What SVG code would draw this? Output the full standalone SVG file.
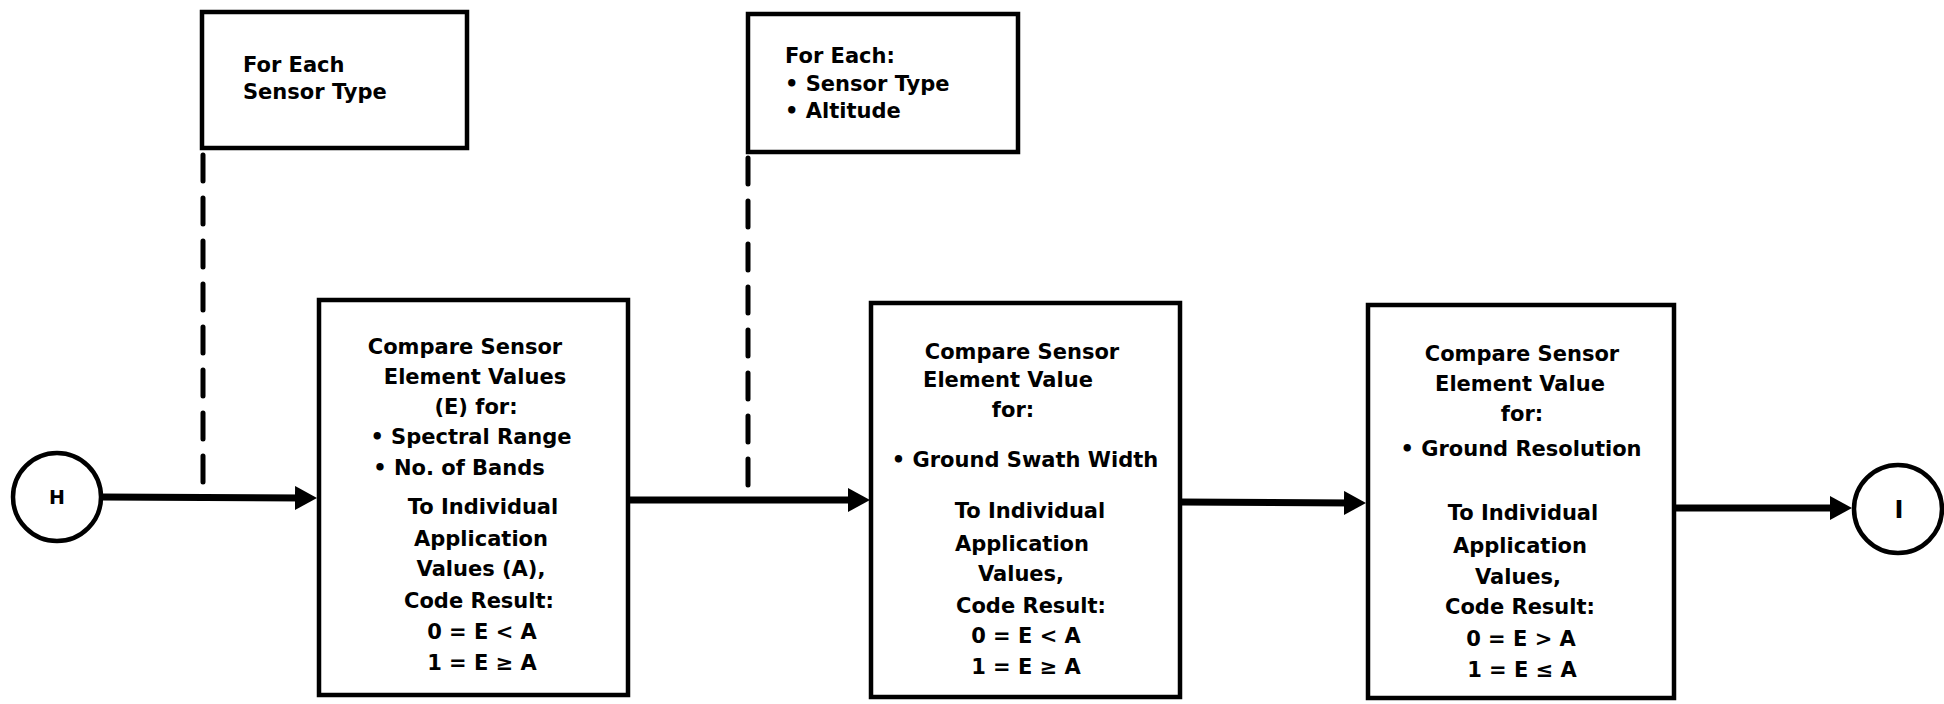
<svg xmlns="http://www.w3.org/2000/svg" width="1944" height="704" viewBox="0 0 1944 704">
<defs>
<style>
.box{fill:#fff;stroke:#000;stroke-width:4.5}
.t{font-family:"DejaVu Sans","Liberation Sans",sans-serif;font-weight:bold;font-size:21px;fill:#000}
.m{text-anchor:middle}
.flow{stroke:#000;stroke-width:7;fill:none}
.dash{stroke:#000;stroke-width:5;fill:none;stroke-dasharray:26 17;stroke-linecap:round}
</style>
<marker id="ah" viewBox="0 0 22 24" refX="10" refY="12" markerWidth="22" markerHeight="24" markerUnits="userSpaceOnUse" orient="auto">
<path d="M0,0 L22,12 L0,24 z" fill="#000"/>
</marker>
</defs>
<rect width="1944" height="704" fill="#fff"/>

<g id="connectors">
<line class="dash" x1="203" y1="155" x2="203" y2="489"/>
<line class="dash" x1="748" y1="158" x2="748" y2="494"/>
<line class="flow" x1="101" y1="497" x2="305" y2="498" marker-end="url(#ah)"/>
<line class="flow" x1="628" y1="500" x2="858" y2="500" marker-end="url(#ah)"/>
<line class="flow" x1="1180" y1="502" x2="1354" y2="503" marker-end="url(#ah)"/>
<line class="flow" x1="1674" y1="508" x2="1840" y2="508" marker-end="url(#ah)"/>
</g>

<g id="note1">
<rect class="box" x="202" y="12" width="265" height="136"/>
<text class="t" x="243" y="72">For Each</text>
<text class="t" x="243" y="99">Sensor Type</text>
</g>

<g id="note2">
<rect class="box" x="748" y="14" width="270" height="138"/>
<text class="t" x="785" y="63">For Each:</text>
<text class="t" x="785" y="91">• Sensor Type</text>
<text class="t" x="785" y="118">• Altitude</text>
</g>

<g id="H">
<circle cx="57" cy="497" r="44" fill="#fff" stroke="#000" stroke-width="4.5"/>
<text class="t m" x="57" y="504" style="font-size:19px">H</text>
</g>

<g id="box1">
<rect class="box" x="319" y="300" width="309" height="395"/>
<text class="t m" x="465" y="354">Compare Sensor</text>
<text class="t m" x="475" y="384">Element Values</text>
<text class="t m" x="476" y="414">(E) for:</text>
<text class="t m" x="471" y="444">• Spectral Range</text>
<text class="t m" x="459" y="475">• No. of Bands</text>
<text class="t m" x="483" y="514">To Individual</text>
<text class="t m" x="481" y="546">Application</text>
<text class="t m" x="481" y="576">Values (A),</text>
<text class="t m" x="479" y="608">Code Result:</text>
<text class="t m" x="482" y="639">0 = E &lt; A</text>
<text class="t m" x="482" y="670">1 = E ≥ A</text>
</g>

<g id="box2">
<rect class="box" x="871" y="303" width="309" height="394"/>
<text class="t m" x="1022" y="359">Compare Sensor</text>
<text class="t m" x="1008" y="387">Element Value</text>
<text class="t m" x="1013" y="417">for:</text>
<text class="t m" x="1025" y="467">• Ground Swath Width</text>
<text class="t m" x="1030" y="518">To Individual</text>
<text class="t m" x="1022" y="551">Application</text>
<text class="t m" x="1021" y="581">Values,</text>
<text class="t m" x="1031" y="613">Code Result:</text>
<text class="t m" x="1026" y="643">0 = E &lt; A</text>
<text class="t m" x="1026" y="674">1 = E ≥ A</text>
</g>

<g id="box3">
<rect class="box" x="1368" y="305" width="306" height="393"/>
<text class="t m" x="1522" y="361">Compare Sensor</text>
<text class="t m" x="1520" y="391">Element Value</text>
<text class="t m" x="1522" y="421">for:</text>
<text class="t m" x="1521" y="456">• Ground Resolution</text>
<text class="t m" x="1523" y="520">To Individual</text>
<text class="t m" x="1520" y="553">Application</text>
<text class="t m" x="1518" y="584">Values,</text>
<text class="t m" x="1520" y="614">Code Result:</text>
<text class="t m" x="1521" y="646">0 = E &gt; A</text>
<text class="t m" x="1522" y="677">1 = E ≤ A</text>
</g>

<g id="I">
<circle cx="1898" cy="509" r="44" fill="#fff" stroke="#000" stroke-width="4.5"/>
<text class="t m" x="1899" y="518" style="font-size:24px">I</text>
</g>
</svg>
